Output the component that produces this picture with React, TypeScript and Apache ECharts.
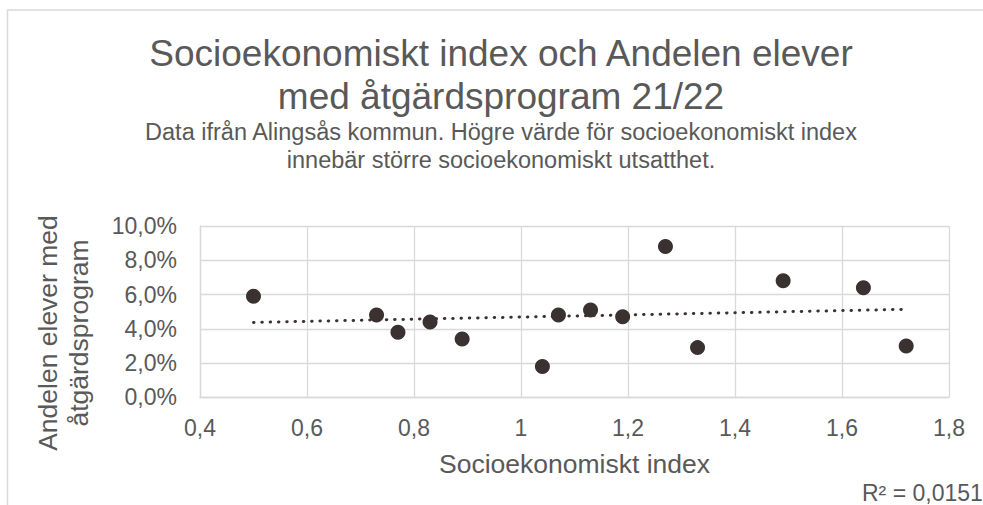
import React, { useEffect, useRef } from "react";
import * as echarts from "echarts";

const titleLines = ["Socioekonomiskt index och Andelen elever", "med åtgärdsprogram 21/22"];
const subtitleLines = [
  "Data ifrån Alingsås kommun. Högre värde för socioekonomiskt index",
  "innebär större socioekonomiskt utsatthet.",
];
const xAxisName = "Socioekonomiskt index";
const yAxisName = "Andelen elever med\nåtgärdsprogram";
const r2Label = "R² = 0,0151";

// Socioekonomiskt index per school
const socioIndex = [0.5, 0.73, 0.77, 0.83, 0.89, 1.04, 1.07, 1.13, 1.19, 1.27, 1.33, 1.49, 1.64, 1.72];
// Andel elever med åtgärdsprogram (%)
const sharePct = [5.9, 4.8, 3.8, 4.4, 3.4, 1.8, 4.8, 5.1, 4.7, 8.8, 2.9, 6.8, 6.4, 3.0];

const xTicks = { min: 0.4, max: 1.8, interval: 0.2 };
const yTicks = { min: 0, max: 10, interval: 2 };

const FONT = "Liberation Sans, Arial, sans-serif";
const TEXT = "#595959";
const GRID = "#d9d9d9";
const MARK = "#3a3131";

function linearFit(xs: number[], ys: number[]) {
  const n = xs.length;
  const mx = xs.reduce((a, b) => a + b, 0) / n;
  const my = ys.reduce((a, b) => a + b, 0) / n;
  let sxy = 0;
  let sxx = 0;
  for (let i = 0; i < n; i++) {
    sxy += (xs[i] - mx) * (ys[i] - my);
    sxx += (xs[i] - mx) * (xs[i] - mx);
  }
  const slope = sxy / sxx;
  const intercept = my - slope * mx;
  return (x: number) => intercept + slope * x;
}

export default function App() {
  const ref = useRef<HTMLDivElement>(null);
  useEffect(() => {
    if (!ref.current) return;
    const chart = echarts.init(ref.current, undefined, { renderer: "svg" });
    const fit = linearFit(socioIndex, sharePct);
    const x0 = Math.min(...socioIndex);
    const x1 = Math.max(...socioIndex);
    const fmtNum = (v: number) => String(+v.toFixed(1)).replace(".", ",");
    chart.setOption({
      animation: false,
      textStyle: { fontFamily: FONT },
      title: {
        text: titleLines.join("\n"),
        subtext: subtitleLines.join("\n"),
        left: 501,
        top: 31.5,
        padding: 0,
        textAlign: "center",
        itemGap: 1,
        textStyle: { fontFamily: FONT, fontSize: 37, fontWeight: "normal", color: TEXT, lineHeight: 43 },
        subtextStyle: { fontFamily: FONT, fontSize: 23.5, color: TEXT, lineHeight: 27.4 },
      },
      grid: { left: 200, right: 34, top: 226, bottom: 107.7 },
      xAxis: {
        type: "value",
        min: xTicks.min,
        max: xTicks.max,
        interval: xTicks.interval,
        name: xAxisName,
        nameLocation: "middle",
        nameGap: 53,
        nameTextStyle: { fontFamily: FONT, fontSize: 26.5, color: TEXT },
        axisLine: { show: true, lineStyle: { color: GRID, width: 1.3 } },
        axisTick: { show: false },
        axisLabel: { fontFamily: FONT, fontSize: 23, color: TEXT, margin: 19, formatter: (v: number) => fmtNum(v) },
        splitLine: { show: true, lineStyle: { color: GRID, width: 1.3 } },
      },
      yAxis: {
        type: "value",
        min: yTicks.min,
        max: yTicks.max,
        interval: yTicks.interval,
        axisLine: { show: true, lineStyle: { color: GRID, width: 1.3 } },
        axisTick: { show: false },
        axisLabel: {
          fontFamily: FONT,
          fontSize: 23,
          color: TEXT,
          margin: 23,
          formatter: (v: number) => v.toFixed(1).replace(".", ",") + "%",
        },
        splitLine: { show: true, lineStyle: { color: GRID, width: 1.3 } },
      },
      graphic: [
        {
          type: "rect",
          shape: { x: 7.5, y: 10, width: 1000, height: 600 },
          style: { fill: "none", stroke: GRID, lineWidth: 1.5 },
          silent: true,
        },
        {
          type: "text",
          x: 63,
          y: 333,
          rotation: Math.PI / 2,
          style: {
            text: yAxisName,
            fontFamily: FONT,
            fontSize: 26.5,
            lineHeight: 31,
            fill: TEXT,
            textAlign: "center",
            textVerticalAlign: "middle",
          },
        },
        {
          type: "text",
          x: 862,
          y: 492.5,
          style: {
            text: r2Label,
            fontFamily: FONT,
            fontSize: 23,
            fill: TEXT,
            textAlign: "left",
            textVerticalAlign: "middle",
          },
        },
      ],
      series: [
        {
          type: "line",
          data: [
            [x0, fit(x0)],
            [x1, fit(x1)],
          ],
          showSymbol: false,
          symbol: "none",
          lineStyle: { color: MARK, width: 3, type: [0.5, 7.8], cap: "round" },
          z: 3,
          silent: true,
        },
        {
          type: "scatter",
          data: socioIndex.map((x, i) => [x, sharePct[i]]),
          symbol: "circle",
          symbolSize: 15,
          itemStyle: { color: MARK, opacity: 1 },
          z: 2,
        },
      ],
    });
    return () => chart.dispose();
  }, []);
  return (
    <div
      ref={ref}
      style={{ position: "absolute", left: 0, top: 0, width: 983, height: 505, background: "#fff" }}
    />
  );
}
